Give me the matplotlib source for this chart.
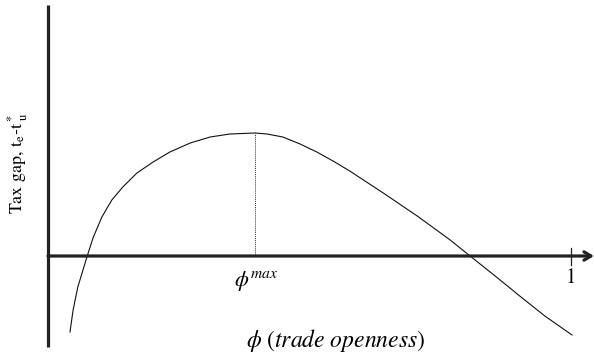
import numpy as np
import matplotlib
matplotlib.use("Agg")
import matplotlib.pyplot as plt

plt.rcParams['font.family'] = ['STIXGeneral', 'DejaVu Serif']
plt.rcParams['mathtext.fontset'] = 'stix'

# trade openness phi and the tax gap t_e - t*_u along the curve
phi = [0.042, 0.048, 0.057, 0.075, 0.086, 0.103, 0.122, 0.143, 0.170, 0.201,
       0.233, 0.272, 0.310, 0.348, 0.396, 0.419, 0.449, 0.482, 0.514, 0.545,
       0.577, 0.641, 0.706, 0.769, 0.807, 0.855, 0.902, 0.950, 1.002]
tax_gap = [-0.76, -0.54, -0.31, 0.00, 0.18, 0.39, 0.56, 0.69, 0.83, 0.94,
           1.04, 1.13, 1.19, 1.22, 1.23, 1.22, 1.19, 1.12, 1.04, 0.95,
           0.85, 0.63, 0.40, 0.16, 0.00, -0.20, -0.40, -0.60, -0.79]

phi_max = 0.396
gap_max = 1.23

fig = plt.figure(figsize=(5.94, 3.58), dpi=100)
ax = fig.add_axes([0, 0, 1, 1])
ax.set_xlim(-0.0918, 1.044)
ax.set_ylim(-1.02, 2.56)
ax.axis('off')

axis_col = '#222222'
# vertical axis
ax.plot([0, 0], [-0.91, 2.51], color=axis_col, lw=2.3, solid_capstyle='butt')
# horizontal axis with arrow
ax.annotate('', xy=(1.044, 0), xytext=(0, 0),
            arrowprops=dict(arrowstyle='->,head_length=0.5,head_width=0.3',
                            color=axis_col, lw=2.3, shrinkA=0, shrinkB=0))
# tick at phi = 1
ax.plot([1, 1], [-0.09, 0.08], color=axis_col, lw=0.9)
ax.text(1, -0.22, '1', ha='center', va='center', fontsize=15)

# the curve
ax.plot(phi, tax_gap, color='#111111', lw=0.8)

# dotted drop line at the maximum
ax.plot([phi_max, phi_max], [0, gap_max], color='#333333', lw=0.7,
        linestyle=(0, (1, 1)))
ax.text(phi_max + 0.002, -0.25, r'$\phi^{max}$', ha='center', va='center',
        fontsize=16)

ax.text(0.551, -0.84, r'$\phi\ (trade\ openness)$', ha='center', va='center',
        fontsize=17)

ax.text(-0.058, 0.93, r'Tax gap, t$_\mathrm{e}$-t$^*_{\ \mathrm{u}}$',
        rotation=90, ha='center', va='center', fontsize=13)

fig.savefig('out.png', dpi=100)
